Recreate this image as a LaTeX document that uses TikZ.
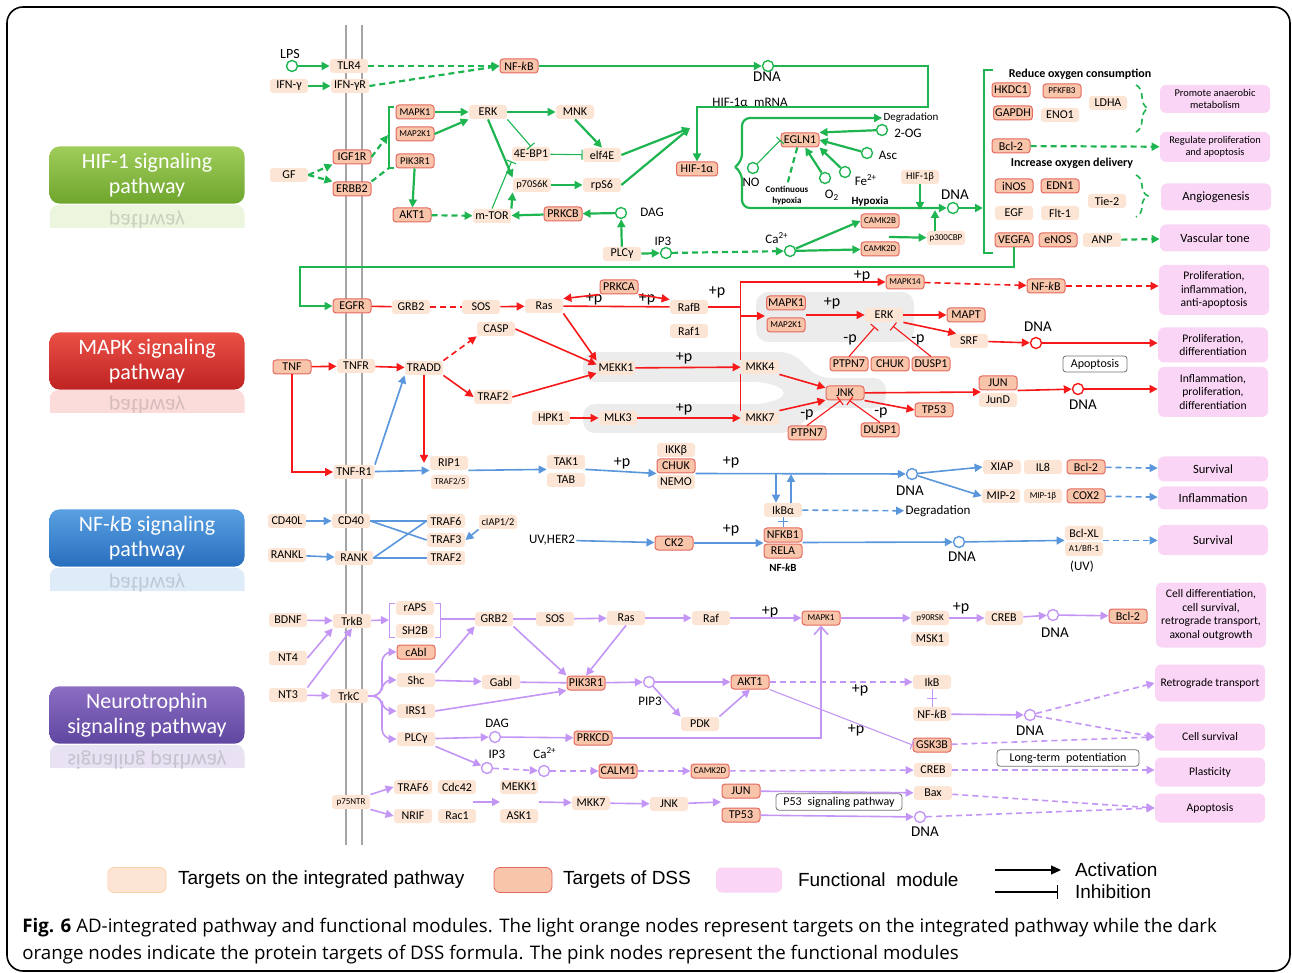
\documentclass[tikz,border=0pt]{standalone}
\usepackage{fontspec}
\setmainfont{Carlito}
\newfontfamily\legendfont{Liberation Sans}
\newfontfamily\captionfont{Open Sans}
\usetikzlibrary{arrows.meta,decorations.pathreplacing}

\definecolor{hifgreen}{RGB}{30,180,80}
\definecolor{mapkred}{RGB}{245,25,25}
\definecolor{nfkbblue}{RGB}{90,150,220}
\definecolor{ntpurple}{RGB}{195,150,245}
\definecolor{lightorange}{RGB}{252,229,212}
\definecolor{darkorange}{RGB}{248,196,170}
\definecolor{darkborder}{RGB}{228,105,95}
\definecolor{modpink}{RGB}{251,213,245}
\definecolor{bandgrey}{RGB}{236,236,236}
\definecolor{membrane}{RGB}{165,165,165}
\definecolor{hiftop}{RGB}{160,205,90}
\definecolor{hifbot}{RGB}{110,165,45}
\definecolor{mapktop}{RGB}{235,80,70}
\definecolor{mapkbot}{RGB}{190,35,35}
\definecolor{nfkbtop}{RGB}{90,160,225}
\definecolor{nfkbbot}{RGB}{40,110,190}
\definecolor{nttop}{RGB}{140,110,195}
\definecolor{ntbot}{RGB}{95,70,160}

\tikzset{
  lnode/.style={fill=lightorange, rounded corners=1.5pt, minimum width=19pt,
    minimum height=7pt, inner sep=0.8pt, font=\fontsize{6}{6.5}\selectfont},
  dnode/.style={lnode, fill=darkorange, draw=darkborder, line width=0.5pt},
  f45/.style={font=\fontsize{4.5}{5}\selectfont},
  f5/.style={font=\fontsize{5.2}{5.5}\selectfont},
  lbl/.style={inner sep=0.5pt, font=\fontsize{6.5}{7}\selectfont},
  dnalbl/.style={inner sep=0.5pt, font=\fontsize{7.5}{8}\selectfont},
  plbl/.style={inner sep=0.5pt, font=\fontsize{8}{8}\selectfont},
  site/.style={circle, draw=#1, fill=white, inner sep=0pt, minimum size=5.5pt, line width=0.7pt},
  module/.style={fill=modpink, rounded corners=3pt, minimum width=55pt, align=center,
    inner sep=1pt, font=\fontsize{5.8}{6.8}\selectfont},
  txtbox/.style={draw=black!55, fill=white, rounded corners=1.5pt, inner sep=1.5pt,
    font=\fontsize{6}{6.5}\selectfont},
  pathbox/.style={rounded corners=5pt, minimum width=97.5pt, minimum height=28pt,
    text=white, align=center, font=\fontsize{11}{12.5}\selectfont},
  mirror/.style={pathbox, yscale=-1, transform shape, fill=#1, text=black!75},
  gline/.style={draw=hifgreen, line width=1.1pt},
  rline/.style={draw=mapkred, line width=0.8pt},
  bline/.style={draw=nfkbblue, line width=0.8pt},
  pline/.style={draw=ntpurple, line width=0.8pt},
  act/.style={-{Triangle[length=4pt,width=4pt]}},
  inh/.style={-{Bar[width=5pt]}, line width=0.55pt},
  dsh/.style={dash pattern=on 3pt off 2pt}
}

\begin{document}
\begin{tikzpicture}[x=0.5pt,y=-0.5pt]
  \useasboundingbox (0,0) rectangle (1292,973);
  \draw[line width=0.8pt, rounded corners=8pt] (7,7) rectangle (1290,971);

  \draw[membrane, line width=1pt] (346,25) -- (346,845) (362,25) -- (362,845);
  \fill[bandgrey, rounded corners=6pt] (583,352) -- (792,352) -- (818,378) -- (886,378)
    -- (886,408) -- (818,408) -- (792,433) -- (583,433) -- (583,404) -- (768,404)
    -- (790,393) -- (768,382) -- (583,382) -- cycle;
  \fill[bandgrey, rounded corners=6pt] (756,292) rectangle (914,342);

  \node[pathbox, top color=hiftop, bottom color=hifbot] (hiflabel) at (147,175) {HIF-1 signaling\\pathway};
  \node[pathbox, top color=mapktop, bottom color=mapkbot] (mapklabel) at (147,361) {MAPK signaling\\pathway};
  \node[pathbox, top color=nfkbtop, bottom color=nfkbbot] (nfkblabel) at (147,538) {NF-\textit{k}B signaling\\pathway};
  \node[pathbox, top color=nttop, bottom color=ntbot] (ntlabel) at (147,715) {Neurotrophin\\signaling pathway};
  \begin{scope}[opacity=0.2]
    \clip (50,205) rectangle (245,228) (50,390) rectangle (245,413) (50,568) rectangle (245,591) (50,745) rectangle (245,768);
    \node[mirror=hiftop] (hifmirror) at (147,233) {HIF-1 signaling\\pathway};
    \node[mirror=mapktop] (mapkmirror) at (147,418) {MAPK signaling\\pathway};
    \node[mirror=nfkbtop] (nfkbmirror) at (147,596) {NF-\textit{k}B signaling\\pathway};
    \node[mirror=nttop] (ntmirror) at (147,773) {Neurotrophin\\signaling pathway};
  \end{scope}

  % HIF-1
  \node[site=hifgreen] (lps) at (292,66) {};
  \node[lbl, font=\fontsize{7}{7}\selectfont] (lpstxt) at (290,54) {LPS};
  \node[lnode] (tlr4) at (349,66) {TLR4};
  \node[lnode] (ifng) at (289,86) {IFN-γ};
  \node[lnode] (ifngr) at (350,86) {IFN-γR};
  \node[dnode] (nfkbh) at (519,66) {NF-\textit{k}B};
  \node[site=hifgreen] (dnah1) at (768,66) {};
  \node[dnalbl] (dnah1txt) at (767,77) {DNA};
  \node[lbl] (mrna) at (750,102) {HIF-1α\enspace mRNA};
  \node[lnode] (gf) at (289,175) {GF};
  \node[dnode] (igf1r) at (352,157) {IGF1R};
  \node[dnode] (erbb2) at (352,189) {ERBB2};
  \node[dnode, f5] (mapk1h) at (415,112) {MAPK1};
  \node[dnode, f45] (map2k1h) at (415,134) {MAP2K1};
  \node[dnode, f5] (pik3r1h) at (415,161) {PIK3R1};
  \node[lnode] (erkh) at (488,112) {ERK};
  \node[lnode] (mnk) at (575,112) {MNK};
  \node[lnode] (ebp1) at (531,154) {4E-BP1};
  \node[lnode] (elf4e) at (602,155) {elf4E};
  \node[lnode, f5] (p70) at (532,185) {p70S6K};
  \node[lnode] (rps6) at (602,185) {rpS6};
  \node[dnode] (akt1h) at (412,215) {AKT1};
  \node[lnode] (mtor) at (492,216) {m-TOR};
  \node[dnode] (prkcb) at (563,214) {PRKCB};
  \node[site=hifgreen] (dag1) at (621,213) {};
  \node[lbl] (dag1txt) at (652,212) {DAG};
  \node[lnode] (plcg1) at (622,254) {PLCγ};
  \node[site=hifgreen] (ip31) at (666,253) {};
  \node[lbl] (ip31txt) at (663,241) {IP3};
  \node[dnode, minimum width=20.5pt] (hif1a) at (697,169) {HIF-1α};
  \node[dnode] (egln1) at (800,140) {EGLN1};
  \node[site=hifgreen] (og2) at (882,130) {};
  \node[lbl] (og2txt) at (908,133) {2-OG};
  \node[site=hifgreen] (asc) at (867,153) {};
  \node[lbl] (asctxt) at (888,155) {Asc};
  \node[site=hifgreen] (fe) at (845,172) {};
  \node[lbl] (fetxt) at (866,180) {Fe\textsuperscript{2+}};
  \node[site=hifgreen] (otwo) at (825,178) {};
  \node[lbl] (otwotxt) at (832,195) {O\textsubscript{2}};
  \node[site=hifgreen] (no) at (753,168) {};
  \node[lbl] (notxt) at (751,182) {NO};
  \node[lbl, align=center, font=\bfseries\fontsize{4.5}{5.5}\selectfont] (conthyp) at (787,196) {Continuous\\hypoxia};
  \node[lbl, font=\bfseries\fontsize{5.5}{6}\selectfont] (hypoxia) at (870,202) {Hypoxia};
  \node[lbl, font=\fontsize{5.5}{6}\selectfont] (degrad1) at (911,118) {Degradation};
  \node[lnode, f5] (hif1b) at (920,177) {HIF-1β};
  \node[site=hifgreen] (dnah2) at (953,208) {};
  \node[dnalbl] (dnah2txt) at (955,195) {DNA};
  \node[dnode, f45] (camk2b) at (880,221) {CAMK2B};
  \node[dnode, f45] (camk2d) at (880,249) {CAMK2D};
  \node[lnode, f45] (p300) at (946,238) {p300CBP};
  \node[site=hifgreen] (ca1) at (790,251) {};
  \node[lbl] (ca1txt) at (777,238) {Ca\textsuperscript{2+}};
  \coordinate (hifin) at (690,128);
  \coordinate (brtip) at (735,167);
  \coordinate (camkout) at (889,237);
  \coordinate (p300up) at (935,210);
  \coordinate (hif1bdn) at (920,210);
  \coordinate (rbrack) at (983,208);
  \coordinate (brk1) at (388,135);
  \coordinate (brk2) at (389,168);

  \node[lbl, font=\bfseries\fontsize{6}{6}\selectfont] (reduce) at (1080,74) {Reduce oxygen consumption};
  \node[dnode] (hkdc1) at (1011,90) {HKDC1};
  \node[dnode, f45] (pfkfb3) at (1062,91) {PFKFB3};
  \node[lnode] (ldha) at (1108,103) {LDHA};
  \node[dnode] (gapdh) at (1013,113) {GAPDH};
  \node[lnode] (eno1) at (1060,115) {ENO1};
  \node[dnode] (bcl2h) at (1011,146) {Bcl-2};
  \node[lbl, font=\bfseries\fontsize{6}{6}\selectfont] (increase) at (1072,163) {Increase oxygen delivery};
  \node[dnode] (inos) at (1014,186) {iNOS};
  \node[dnode] (edn1) at (1060,186) {EDN1};
  \node[lnode] (tie2) at (1107,201) {Tie-2};
  \node[lnode] (egf) at (1014,213) {EGF};
  \node[lnode] (flt1) at (1060,213) {Flt-1};
  \node[dnode] (vegfa) at (1014,240) {VEGFA};
  \node[dnode] (enos) at (1058,240) {eNOS};
  \node[lnode] (anp) at (1102,240) {ANP};
  \node[module, minimum height=14pt, font=\fontsize{5.2}{6.2}\selectfont] (modanaer) at (1215,99) {Promote anaerobic\\metabolism};
  \node[module, minimum height=15pt, font=\fontsize{5.2}{6.2}\selectfont] (modprolapo) at (1215,147) {Regulate proliferation\\and apoptosis};
  \node[module, minimum height=13.5pt, font=\fontsize{6.3}{7}\selectfont] (modangio) at (1216,197) {Angiogenesis};
  \node[module, minimum height=13.5pt, font=\fontsize{6.3}{7}\selectfont] (modvasc) at (1215,238) {Vascular tone};

  \begin{scope}[gline]
    \draw[act] (lps) to (tlr4);
    \draw[act] (ifng) to (ifngr);
    \draw[act, dsh] (tlr4) to (nfkbh);
    \draw[act, dsh] (ifngr.east) to (nfkbh.west);
    \draw[act] (nfkbh) to (dnah1);
    \draw[act] (dnah1) -| (928,107) -| (hif1a.north);
    \draw[act, dsh] (gf.east) to (igf1r.south west);
    \draw[act, dsh] (gf.east) to (erbb2.north west);
    \draw[act, dsh] (igf1r.east) to (brk1);
    \draw[dsh] (erbb2.north east) to (brk2);
    \draw[line width=0.8pt] (394,107) -- (389,107) -- (389,168) -- (394,168);
    \draw[act] (mapk1h) to (erkh);
    \draw[act] (map2k1h.east) to (erkh.south west);
    \draw[act] (pik3r1h) to (akt1h);
    \draw[act, dsh] (akt1h) to (mtor);
    \draw[act] (erkh) to (mnk);
    \draw[inh] (erkh.south east) to (ebp1.north);
    \draw[act] (erkh.south) to (p70.north west);
    \draw[act] (mnk.south) to (elf4e.north);
    \draw[inh] (ebp1) to (elf4e);
    \draw[act] (p70) to (rps6);
    \draw[act] (elf4e.east) to (hifin);
    \draw[act] (rps6.east) to (hifin);
    \draw[inh] (mtor.north) to (ebp1.south west);
    \draw[act] (mtor.north east) to (p70.south west);
    \draw[act] (prkcb) to (mtor);
    \draw[act] (dag1) to (prkcb);
    \draw[act] (plcg1) to (dag1);
    \draw[act] (plcg1) to (ip31);
    \draw[act, dsh] (ip31) to (ca1);
    \draw[act] (ca1) to (camk2b.west);
    \draw[act] (ca1) to (camk2d);
    \draw[act] (camkout) to (p300);
    \draw[act] (p300.north -| p300up) to (p300up);
    \draw[act] (hif1b) to (hif1bdn);
    \draw[act, rounded corners=4pt] (brtip) -- (742,162) |- (degrad1.west);
    \draw[act, rounded corners=4pt] (brtip) -- (742,172) |- (dnah2.west);
    \draw[act] (dnah2) to (rbrack);
    \draw[line width=0.8pt] (993,70) -- (984,70) -- (984,253) -- (993,253);
    \draw[act] (og2) to (egln1.north east);
    \draw[act] (asc) to (egln1.east);
    \draw[act] (fe) to (egln1.south east);
    \draw[act] (otwo) to (egln1.-55);
    \draw[inh] (no) to (egln1.west);
    \draw[dsh] (egln1.-110) to (conthyp.north);
    \draw[act, dsh] (bcl2h) to (modprolapo);
    \draw[act, dsh] (anp) to (modvasc);
    \draw[dsh, line width=0.8pt, decorate, decoration={brace, amplitude=6pt}] (1136,85) -- (1136,132);
    \draw[dsh, line width=0.8pt, decorate, decoration={brace, amplitude=6pt}] (1136,175) -- (1136,217);
  \end{scope}

  % MAPK
  \node[dnode] (egfr) at (352,306) {EGFR};
  \node[lnode] (grb2m) at (411,307) {GRB2};
  \node[lnode] (sosm) at (481,307) {SOS};
  \node[lnode] (rasm) at (544,306) {Ras};
  \node[dnode] (prkca) at (619,287) {PRKCA};
  \node[lnode] (rafb) at (689,307) {RafB};
  \node[lnode] (raf1) at (689,331) {Raf1};
  \node[lnode] (casp) at (496,329) {CASP};
  \node[dnode] (tnf) at (292,367) {TNF};
  \node[lnode] (tnfr) at (356,366) {TNFR};
  \node[lnode] (tradd) at (424,368) {TRADD};
  \node[lnode] (traf2m) at (493,397) {TRAF2};
  \node[lnode] (mekk1) at (616,368) {MEKK1};
  \node[lnode] (hpk1) at (551,418) {HPK1};
  \node[lnode] (mlk3) at (618,418) {MLK3};
  \node[lnode] (mkk4) at (760,367) {MKK4};
  \node[lnode] (mkk7) at (760,418) {MKK7};
  \node[dnode, f45] (mapk14) at (905,282) {MAPK14};
  \node[dnode] (nfkbm) at (1046,286) {NF-\textit{k}B};
  \node[dnode] (mapk1m) at (786,303) {MAPK1};
  \node[dnode, f45] (map2k1m) at (786,325) {MAP2K1};
  \node[lnode] (erkm) at (884,315) {ERK};
  \node[dnode] (mapt) at (966,315) {MAPT};
  \node[lnode] (srf) at (969,341) {SRF};
  \node[site=mapkred] (dnam1) at (1036,343) {};
  \node[dnalbl] (dnam1txt) at (1038,327) {DNA};
  \node[dnode] (ptpn7a) at (849,364) {PTPN7};
  \node[dnode] (chuka) at (890,364) {CHUK};
  \node[dnode] (dusp1a) at (931,364) {DUSP1};
  \node[txtbox, minimum width=32pt] (apopbox) at (1095,364) {Apoptosis};
  \node[dnode] (jnk) at (845,393) {JNK};
  \node[dnode] (tp53m) at (934,410) {TP53};
  \node[dnode] (ptpn7b) at (807,433) {PTPN7};
  \node[dnode] (dusp1b) at (880,430) {DUSP1};
  \node[dnode] (jun) at (998,383) {JUN};
  \node[lnode] (jund) at (998,400) {JunD};
  \node[site=mapkred] (dnam2) at (1078,389) {};
  \node[dnalbl] (dnam2txt) at (1083,405) {DNA};
  \node[module, minimum height=25pt] (modproinfl) at (1214,290) {Proliferation,\\inflammation,\\anti-apoptosis};
  \node[module, minimum height=17.5pt] (modprodiff) at (1213,345) {Proliferation,\\differentiation};
  \node[module, minimum height=25pt] (modinflprolif) at (1213,392) {Inflammation,\\proliferation,\\differentiation};
  \node[plbl] (pm1) at (594,299) {+p};
  \node[plbl] (pm2) at (647,299) {+p};
  \node[plbl] (pm3) at (684,358) {+p};
  \node[plbl] (pm4) at (684,409) {+p};
  \node[plbl] (pm5) at (717,292) {+p};
  \node[plbl] (pm6) at (862,276) {+p};
  \node[plbl] (pm7) at (832,303) {+p};
  \node[plbl] (mm1) at (850,340) {-p};
  \node[plbl] (mm2) at (918,340) {-p};
  \node[plbl] (mm3) at (807,415) {-p};
  \node[plbl] (mm4) at (881,413) {-p};
  \coordinate (mapkgrp) at (765,316);
  \coordinate (jungrp) at (981,392);

  \draw[gline, act, line width=0.9pt] (vegfa.south) |- (300,267) |- (egfr.west);
  \begin{scope}[rline]
    \draw (egfr) to (grb2m);
    \draw[dsh] (grb2m) to (sosm);
    \draw[act] (sosm) to (rasm);
    \draw (rasm) to (rafb);
    \draw[act] (prkca.south west) to (rasm.north east);
    \draw[act] (prkca.south east) to (rafb.north west);
    \draw[act] (rasm.south east) to (mekk1.north west);
    \draw[act] (casp.east) to (mekk1.170);
    \draw[act] (traf2m.east) to (mekk1.195);
    \draw[act] (tnf) to (tnfr);
    \draw[act] (tnfr) to (tradd);
    \draw[act, dsh] (tradd.north east) to (casp.south west);
    \draw[act] (tradd.south east) to (traf2m.west);
    \draw[act] (mekk1) to (mkk4);
    \draw[act] (hpk1) to (mlk3);
    \draw[act] (mlk3) to (mkk7);
    \draw (rafb.east) to (rafb.east -| mkk4.west);
    \draw (mkk7.north west) to (mkk4.south west);
    \draw[act] (mkk4.north west) |- (mapk14.west);
    \draw[act] (mkk4.north west |- mapkgrp) to (mapkgrp);
    \draw[act] (mapk1m.east |- erkm) to (erkm);
    \draw[act] (erkm) to (mapt);
    \draw[act] (erkm.south east) to (srf.150);
    \draw[act] (srf) to (dnam1);
    \draw[act] (dnam1) to (dnam1 -| modprodiff.west);
    \draw[act, dsh] (mapk14) to (nfkbm);
    \draw[act, dsh] (nfkbm) to (nfkbm -| modproinfl.west);
    \draw[inh, shorten >=3pt] (ptpn7a.north) to (erkm.-125);
    \draw[inh, shorten >=3pt] (dusp1a.north) to (erkm.-60);
    \draw[act] (mkk4.south east) to (jnk.165);
    \draw[act] (mkk7.north east) to (jnk.200);
    \draw[inh] (ptpn7b.north) to (jnk.-120);
    \draw[inh] (dusp1b.north) to (jnk.-60);
    \draw[act] (jnk.south east) to (tp53m.west);
    \draw[act] (jnk) to (jungrp);
    \draw[act] (jun.south east) to (dnam2);
    \draw[act] (dnam2) to (dnam2 -| modinflprolif.west);
  \end{scope}

  % NF-kB
  \node[lnode, minimum width=20.5pt] (tnfr1) at (354,472) {TNF-R1};
  \node[lnode] (rip1) at (449,463) {RIP1};
  \node[lnode, f45] (traf25) at (450,482) {TRAF2/5};
  \node[lnode] (tak1) at (566,462) {TAK1};
  \node[lnode] (tab) at (566,480) {TAB};
  \node[lnode] (ikkb) at (676,450) {IKKβ};
  \node[dnode] (chukb) at (676,466) {CHUK};
  \node[lnode] (nemo) at (676,482) {NEMO};
  \node[lnode] (ikba) at (783,510) {IkBα};
  \node[dnode] (nfkb1) at (783,535) {NFKB1};
  \node[dnode] (rela) at (783,551) {RELA};
  \node[lbl, font=\bfseries\fontsize{5.5}{6}\selectfont] (nfkbtxt) at (783,568) {NF-\textit{k}B};
  \node[site=nfkbblue] (dnab1) at (912,474) {};
  \node[dnalbl] (dnab1txt) at (910,491) {DNA};
  \node[lnode] (xiap) at (1002,467) {XIAP};
  \node[lnode] (il8) at (1043,467) {IL8};
  \node[dnode] (bcl2b) at (1086,467) {Bcl-2};
  \node[lnode] (mip2) at (1001,496) {MIP-2};
  \node[lnode, f45] (mip1b) at (1043,496) {MIP-1β};
  \node[dnode] (cox2) at (1086,496) {COX2};
  \node[lbl] (degrad2) at (938,511) {Degradation};
  \node[lnode] (cd40l) at (287,521) {CD40L};
  \node[lnode] (cd40) at (351,521) {CD40};
  \node[lnode] (rankl) at (287,555) {RANKL};
  \node[lnode] (rank) at (354,558) {RANK};
  \node[lnode] (traf6b) at (446,521) {TRAF6};
  \node[lnode] (traf3) at (446,540) {TRAF3};
  \node[lnode] (traf2b) at (446,558) {TRAF2};
  \node[lnode, f5] (ciap) at (498,522) {cIAP1/2};
  \node[lbl] (uvher2) at (552,540) {UV,HER2};
  \node[dnode] (ck2) at (674,543) {CK2};
  \node[site=nfkbblue] (dnab2) at (959,542) {};
  \node[dnalbl] (dnab2txt) at (962,557) {DNA};
  \node[lnode] (bclxl) at (1084,533) {Bcl-XL};
  \node[lnode, f45] (a1bfl) at (1084,549) {A1/Bfl-1};
  \node[lbl] (uvtxt) at (1082,567) {(UV)};
  \node[module, minimum height=12.5pt, font=\fontsize{6.3}{7}\selectfont] (modsurv1) at (1213,469) {Survival};
  \node[module, minimum height=11.5pt, font=\fontsize{6.3}{7}\selectfont] (modinfl) at (1213,498) {Inflammation};
  \node[module, minimum height=15pt, font=\fontsize{6.3}{7}\selectfont] (modsurv2) at (1213,540) {Survival};
  \node[plbl] (pb1) at (622,463) {+p};
  \node[plbl] (pb2) at (731,462) {+p};
  \node[plbl] (pb3) at (731,530) {+p};
  \coordinate (ikdown) at (776,474);
  \coordinate (ikup) at (791,474);

  \draw[rline, act] (tnf.south) |- (tnfr1.west);
  \draw[rline, act] (tradd.south) to (tradd.south |- rip1.west);
  \begin{scope}[bline]
    \draw[act] (tnfr1.north east) to (tradd.south west);
    \draw[act] (tnfr1) to (rip1.south west);
    \draw[act] (rip1.south east) to (tak1.south west);
    \draw[act] (tak1.south east) to (chukb.south west);
    \draw[act] (chukb.south east) to (dnab1);
    \draw[act] (ikdown) to (ikdown |- ikba.north);
    \draw[act] (ikup |- ikba.north) to (ikup);
    \draw[act, dsh] (ikba) to (degrad2);
    \draw[line width=0.5pt] (ikba.south) to (nfkb1.north);
    \draw[line width=0.5pt] (778,522) -- (788,522);
    \draw[act] (ck2) to (ck2 -| nfkb1.west);
    \draw[act] (nfkb1.south east) to (dnab2);
    \draw[act] (dnab2) to (bclxl.south west);
    \draw[act, dsh] (bclxl.south east) to (bclxl.south east -| modsurv2.west);
    \draw[act] (dnab1) to (xiap.west);
    \draw[act] (dnab1) to (mip2.west);
    \draw[act, dsh] (bcl2b) to (modsurv1);
    \draw[act, dsh] (cox2) to (modinfl);
    \draw[act] (cd40l) to (cd40);
    \draw[act] (rankl) to (rank);
    \draw (cd40) to (traf6b);
    \draw (cd40.east) to (traf3.west);
    \draw (rank.east) to (traf6b.west);
    \draw (rank) to (traf2b);
    \draw[act] (ciap.south west) to (traf3.east);
    \draw[act] (uvher2) to (ck2);
  \end{scope}

  % Neurotrophin
  \node[lnode] (bdnf) at (288,620) {BDNF};
  \node[lnode] (trkb) at (352,621) {TrkB};
  \node[lnode] (raps) at (415,608) {rAPS};
  \node[lnode] (sh2b) at (415,631) {SH2B};
  \node[lnode] (grb2n) at (494,619) {GRB2};
  \node[lnode] (sosn) at (555,619) {SOS};
  \node[lnode] (rasn) at (626,618) {Ras};
  \node[lnode] (raf) at (711,618) {Raf};
  \node[dnode, f45] (mapk1n) at (821,618) {MAPK1};
  \node[lnode, f45] (p90rsk) at (930,618) {p90RSK};
  \node[lnode] (msk1) at (930,639) {MSK1};
  \node[lnode] (crebn1) at (1004,618) {CREB};
  \node[site=ntpurple] (dnan1) at (1053,615) {};
  \node[dnalbl] (dnan1txt) at (1055,633) {DNA};
  \node[dnode] (bcl2n) at (1128,616) {Bcl-2};
  \node[lnode] (nt4) at (288,658) {NT4};
  \node[lnode] (nt3) at (288,695) {NT3};
  \node[lnode] (trkc) at (349,696) {TrkC};
  \node[dnode] (cabl) at (416,652) {cAbl};
  \node[lnode] (shc) at (416,680) {Shc};
  \node[lnode] (irs1) at (416,711) {IRS1};
  \node[lnode] (plcgn) at (416,739) {PLCγ};
  \node[lnode] (gabl) at (501,682) {Gabl};
  \node[dnode] (pik3r1n) at (586,683) {PIK3R1};
  \node[site=ntpurple] (pip3) at (649,682) {};
  \node[lbl] (pip3txt) at (650,701) {PIP3};
  \node[lnode] (pdk) at (700,724) {PDK};
  \node[dnode] (akt1n) at (750,682) {AKT1};
  \node[site=ntpurple] (dag2) at (495,737) {};
  \node[lbl] (dag2txt) at (497,723) {DAG};
  \node[dnode] (prkcd) at (593,738) {PRKCD};
  \node[site=ntpurple] (ip32) at (487,768) {};
  \node[lbl] (ip32txt) at (497,754) {IP3};
  \node[site=ntpurple] (ca2) at (544,771) {};
  \node[lbl] (ca2txt) at (545,753) {Ca\textsuperscript{2+}};
  \node[dnode] (calm1) at (618,771) {CALM1};
  \node[dnode, f45] (camk2dn) at (710,771) {CAMK2D};
  \node[lnode] (ikb) at (932,682) {IkB};
  \node[lnode] (nfkbn) at (932,714) {NF-\textit{k}B};
  \node[site=ntpurple] (dnan2) at (1030,715) {};
  \node[dnalbl] (dnan2txt) at (1030,731) {DNA};
  \node[dnode] (gsk3b) at (932,745) {GSK3B};
  \node[lnode] (crebn2) at (933,770) {CREB};
  \node[txtbox, minimum width=71pt] (ltpbox) at (1068,758) {Long-term\enspace potentiation};
  \node[lnode, f45] (p75) at (351,802) {p75NTR};
  \node[lnode] (traf6n) at (413,787) {TRAF6};
  \node[lnode] (cdc42) at (457,787) {Cdc42};
  \node[lnode] (nrif) at (413,816) {NRIF};
  \node[lnode] (rac1) at (457,816) {Rac1};
  \node[lnode] (mekk1n) at (519,787) {MEKK1};
  \node[lnode] (ask1) at (519,816) {ASK1};
  \node[lnode] (mkk7n) at (591,803) {MKK7};
  \node[lnode] (jnkn) at (669,804) {JNK};
  \node[dnode] (junn) at (741,791) {JUN};
  \node[dnode] (tp53n) at (741,815) {TP53};
  \node[lnode] (bax) at (933,793) {Bax};
  \node[txtbox, minimum width=63pt] (p53box) at (839,802) {P53\enspace signaling pathway};
  \node[site=ntpurple] (dnan3) at (920,817) {};
  \node[dnalbl] (dnan3txt) at (925,832) {DNA};
  \node[module, minimum height=32.5pt] (modcelldiff) at (1211,615) {Cell differentiation,\\cell survival,\\retrograde transport,\\axonal outgrowth};
  \node[module, minimum height=18.5pt] (modretro) at (1210,683) {Retrograde transport};
  \node[module, minimum height=13.5pt] (modcellsurv) at (1210,737) {Cell survival};
  \node[module, minimum height=14.5pt] (modplast) at (1210,772) {Plasticity};
  \node[module, minimum height=14.5pt] (modapop) at (1210,808) {Apoptosis};
  \node[plbl] (pn1) at (770,612) {+p};
  \node[plbl] (pn2) at (961,608) {+p};
  \node[plbl] (pn3) at (860,690) {+p};
  \node[plbl] (pn4) at (856,730) {+p};
  \coordinate (trkbrk) at (389,620);
  \coordinate (brkout) at (440,619);
  \coordinate (trkcsplit) at (382,696);
  \coordinate (smallgtp) at (473,802);
  \coordinate (mekkin) at (500,802);
  \coordinate (mekkout) at (539,802);
  \coordinate (juntp) at (721,802);

  \begin{scope}[pline]
    \draw[act] (bdnf) to (trkb);
    \draw[act] (nt4.east) to (trkb.south west);
    \draw[act] (nt3.north east) to (trkb.south);
    \draw[act] (nt3) to (trkc);
    \draw[line width=0.5pt] (395,603) -- (389,603) -- (389,637) -- (395,637);
    \draw[line width=0.5pt] (435,603) -- (440,603) -- (440,637) -- (435,637);
    \draw[act] (trkb) to (trkbrk);
    \draw (brkout) to (grb2n);
    \draw (grb2n) to (sosn);
    \draw[act] (sosn) to (rasn);
    \draw[act] (rasn) to (raf);
    \draw[act] (raf) to (mapk1n);
    \draw[act] (mapk1n) to (p90rsk);
    \draw[act] (p90rsk) to (crebn1);
    \draw[act] (crebn1) to (dnan1);
    \draw[act] (dnan1) to (bcl2n);
    \draw[act] (grb2n.south east) to (pik3r1n.north west);
    \draw[act] (rasn.south) to (pik3r1n.north);
    \draw[act, rounded corners=5pt] (trkc.east) -- (trkcsplit) |- (cabl.west);
    \draw[act, rounded corners=5pt] (trkc.east) -- (trkcsplit) |- (shc.west);
    \draw[act, rounded corners=5pt] (trkc.east) -- (trkcsplit) |- (irs1.west);
    \draw[act, rounded corners=5pt] (trkc.east) -- (trkcsplit) |- (plcgn.west);
    \draw[act] (shc.north east) to (grb2n.south west);
    \draw[act] (shc) to (gabl);
    \draw (gabl) to (pik3r1n);
    \draw[act] (irs1.east) to (pik3r1n.south west);
    \draw[act] (pik3r1n) to (pip3);
    \draw[act] (pip3) to (akt1n);
    \draw[act] (pip3) to (pdk.north west);
    \draw[act] (pdk.north east) to (akt1n.south);
    \draw[act] (plcgn) to (dag2);
    \draw[act] (dag2) to (prkcd);
    \draw[-{Straight Barb[length=4pt,width=7pt]}] (prkcd) -| (mapk1n.south);
    \draw[act] (plcgn.south east) to (ip32);
    \draw[act, dsh] (ip32) to (ca2);
    \draw[act, dsh] (ca2) to (calm1);
    \draw[act, dsh] (calm1) to (camk2dn);
    \draw[act, dsh] (camk2dn) to (crebn2);
    \draw[act, dsh] (crebn2) to (crebn2 -| modplast.west);
    \draw[act, dsh] (akt1n) to (ikb);
    \draw[line width=0.5pt] (ikb) to (nfkbn);
    \draw[line width=0.5pt] (927,698) -- (937,698);
    \draw[act] (nfkbn) to (dnan2);
    \draw[act, dsh] (dnan2) to (modretro.west);
    \draw[act, dsh] (dnan2) to (modcellsurv.west);
    \draw[inh] (akt1n.south east) to (gsk3b.west);
    \draw[act, dsh] (gsk3b) to (modcellsurv.west);
    \draw[act] (p75.north east) to (traf6n.west);
    \draw[act] (p75.south east) to (nrif.west);
    \draw[act] (smallgtp) to (mekkin);
    \draw[act] (mekkout) to (mkk7n);
    \draw[act] (mkk7n) to (jnkn);
    \draw[act] (jnkn) to (juntp);
    \draw[act] (junn) to (bax);
    \draw[act] (tp53n) to (dnan3);
    \draw[act, dsh] (bax) to (modapop.west);
    \draw[act, dsh] (dnan3) to (modapop.west);
  \end{scope}

  % legend and caption
  \node[fill=lightorange, draw=lightorange!80!orange, rounded corners=3pt, minimum width=29pt, minimum height=12.5pt] (leglight) at (137,880) {};
  \node[anchor=west, font=\legendfont\fontsize{9.5}{10}\selectfont] (leglighttxt) at (171,880) {Targets on the integrated pathway};
  \node[fill=darkorange, draw=darkborder, rounded corners=3pt, minimum width=29pt, minimum height=12.5pt] (legdark) at (523,880) {};
  \node[anchor=west, font=\legendfont\fontsize{9.5}{10}\selectfont] (legdarktxt) at (556,880) {Targets of DSS};
  \node[fill=modpink, rounded corners=3pt, minimum width=33pt, minimum height=12.5pt] (legpink) at (749,880) {};
  \node[anchor=west, font=\legendfont\fontsize{9.5}{10}\selectfont] (legpinktxt) at (791,880) {Functional\ \ module};
  \coordinate (actfrom) at (995,870);
  \coordinate (actto) at (1061,870);
  \coordinate (inhfrom) at (995,892);
  \coordinate (inhto) at (1058,892);
  \draw[-{Triangle[length=5pt,width=4.5pt]}, line width=0.6pt] (actfrom) to (actto);
  \draw[-{Bar[width=7pt]}, line width=0.6pt] (inhfrom) to (inhto);
  \node[anchor=west, font=\legendfont\fontsize{9.5}{10}\selectfont] (legact) at (1068,870) {Activation};
  \node[anchor=west, font=\legendfont\fontsize{9.5}{10}\selectfont] (leginh) at (1068,892) {Inhibition};
  \node[anchor=west, inner sep=0pt, font=\captionfont\fontsize{9.35}{10}\selectfont] (cap1) at (22,928) {\textbf{Fig. 6} AD-integrated pathway and functional modules. The light orange nodes represent targets on the integrated pathway while the dark};
  \node[anchor=west, inner sep=0pt, font=\captionfont\fontsize{9.35}{10}\selectfont] (cap2) at (22,955) {orange nodes indicate the protein targets of DSS formula. The pink nodes represent the functional modules};
\end{tikzpicture}
\end{document}
